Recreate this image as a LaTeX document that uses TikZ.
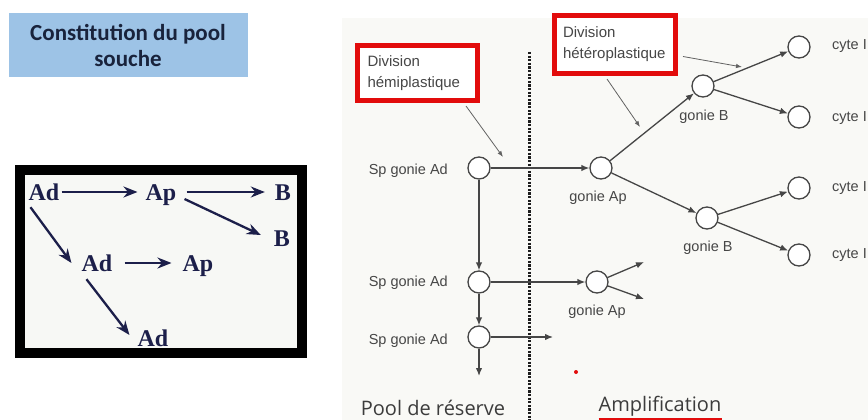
\documentclass[tikz,border=0pt]{standalone}
\usepackage{fontspec}
\setmainfont{Liberation Sans}
\newfontfamily\titlefont{Carlito}
\newfontfamily\schemefont{Liberation Serif}
\newfontfamily\poolfont{Open Sans}
\usetikzlibrary{arrows.meta}

\definecolor{titleblue}{RGB}{157,195,230}
\definecolor{titletext}{RGB}{25,35,60}
\definecolor{navy}{RGB}{28,31,74}
\definecolor{labelgray}{RGB}{70,70,70}
\definecolor{boxred}{RGB}{226,12,12}
\definecolor{panel}{RGB}{249,249,246}

\begin{document}
\begin{tikzpicture}[x=1pt,y=1pt]
\tikzstyle{every node}+=[inner sep=0pt]
\tikzstyle{cell}=[draw=labelgray,circle,minimum size=22pt,line width=1.3pt,fill=white]
\tikzstyle{lab}=[text=labelgray,font=\fontsize{14.5}{16}\selectfont]
\tikzstyle{arr}=[draw=labelgray,line width=1.3pt,-{Latex[length=8pt,width=6.5pt]}]
\tikzstyle{note}=[draw=labelgray!85,line width=0.8pt,-{Latex[length=6pt,width=4.5pt]}]
\tikzstyle{redbox}=[draw=boxred,line width=5pt,fill=white,align=left,text=labelgray,font=\fontsize{15}{21}\selectfont]
\tikzstyle{cellname}=[text=navy,font=\schemefont\bfseries\fontsize{24}{24}\selectfont,text height=16pt,text depth=0pt,inner sep=1pt]
\tikzstyle{step arrow}=[draw=navy,line width=2.3pt,-{Stealth[length=14pt,width=11pt]}]
\useasboundingbox (0,0) rectangle (868,-420);

% title
\fill [titleblue] (9,-13) rectangle (248,-77);
\node (title) at (128,-45) [align=center,text=titletext,font=\titlefont\bfseries\fontsize{23}{26}\selectfont] {Constitution du pool\\souche};

% scheme Ad / Ap / B
\draw [black,line width=10pt,fill={rgb,255:red,247;green,248;blue,245}] (20,-170) rectangle (302,-353);
\node [cellname] (ad1) at (44,-192) {Ad};
\node [cellname] (ap1) at (161,-192) {Ap};
\node [cellname] (b1) at (283,-192) {B};
\node [cellname] (b2) at (282,-238) {B};
\node [cellname] (ad2) at (97,-263) {Ad};
\node [cellname] (ap2) at (198,-263) {Ap};
\node [cellname] (ad3) at (153,-338) {Ad};
\draw [step arrow,shorten <=1pt,shorten >=7pt] (ad1.east) -- (ap1.west);
\draw [step arrow,shorten <=9pt,shorten >=9pt] (ap1.east) -- (b1.west);
\draw [step arrow] ([shift={(7pt,-7pt)}]ap1.east) -- ([shift={(-12pt,3pt)}]b2.west);
\draw [step arrow] ([shift={(3pt,-6pt)}]ad1.south west) -- ([xshift=-9pt]ad2.west);
\draw [step arrow,shorten <=11pt,shorten >=10pt] (ad2.east) -- (ap2.west);
\draw [step arrow] ([shift={(6pt,-7pt)}]ad2.south west) -- ([shift={(-7pt,3pt)}]ad3.west);

% pool de reserve / amplification
\fill [panel] (342,-18) rectangle (868,-420);
\draw [draw={rgb,255:red,30;green,30;blue,30},line width=3pt,dash pattern=on 2.2pt off 1.4pt] (529,-52) -- (529,-420);

\node [redbox,minimum width=120pt,minimum height=55pt,text width=100pt] (hemi) at (417.5,-73) {Division\\hémiplastique};
\node [redbox,minimum width=121pt,minimum height=58pt,text width=104pt] (hetero) at (615,-44.5) {Division\\hétéroplastique};

\node [cell] (sp1) at (479,-168) {};
\node [cell] (sp2) at (479,-282) {};
\node [cell] (sp3) at (479,-337) {};
\node [cell] (gap1) at (601,-168) {};
\node [cell] (gap2) at (597,-282) {};
\node [cell] (gb1) at (703,-86) {};
\node [cell] (gb2) at (707,-218) {};
\node [cell] (cy1) at (799,-47) {};
\node [cell] (cy2) at (799,-117) {};
\node [cell] (cy3) at (799,-188) {};
\node [cell] (cy4) at (799,-255) {};

\node [lab,anchor=east] (sp1lab) at (448,-171) {Sp gonie Ad};
\node [lab,anchor=east] (sp2lab) at (448,-283) {Sp gonie Ad};
\node [lab,anchor=east] (sp3lab) at (448,-341) {Sp gonie Ad};
\node [lab] (gap1lab) at (598,-198) {gonie Ap};
\node [lab] (gap2lab) at (597,-312) {gonie Ap};
\node [lab] (gb1lab) at (704,-117) {gonie B};
\node [lab] (gb2lab) at (708,-248) {gonie B};
\node [lab,anchor=west] (cy1lab) at (832,-46) {cyte I};
\node [lab,anchor=west] (cy2lab) at (832,-118) {cyte I};
\node [lab,anchor=west] (cy3lab) at (832,-188) {cyte I};
\node [lab,anchor=west] (cy4lab) at (832,-255) {cyte I};

\coordinate (sp3right) at (553,-337);
\coordinate (sp3down) at (479,-376);
\coordinate (gap2up) at (644,-262);
\coordinate (gap2down) at (644,-299);
\coordinate (hemitip) at (503,-157);
\coordinate (heterotip1) at (742,-67);
\coordinate (heterotip2) at (640,-127);

\draw [arr] (sp1) -- (gap1);
\draw [arr] (sp1) -- (sp2);
\draw [arr] (sp2) -- (gap2);
\draw [arr] (sp2) -- (sp3);
\draw [arr] (sp3) -- (sp3right);
\draw [arr] (sp3) -- (sp3down);
\draw [arr] (gap1) -- (gb1);
\draw [arr] (gap1) -- (gb2);
\draw [arr] (gb1) -- (cy1);
\draw [arr] (gb1) -- (cy2);
\draw [arr] (gb2) -- (cy3);
\draw [arr] (gb2) -- (cy4);
\draw [arr] (gap2) -- (gap2up);
\draw [arr] (gap2) -- (gap2down);

\draw [note] ([shift={(-14pt,-3pt)}]hemi.south east) -- (hemitip);
\draw [note] ([shift={(5pt,-12pt)}]hetero.east) -- (heterotip1);
\draw [note] ([shift={(-8pt,-3pt)}]hetero.south) -- (heterotip2);

\fill [boxred] (576,-372) circle (2);
\node [text={rgb,255:red,60;green,60;blue,60},font=\poolfont\fontsize{20}{24}\selectfont] (pool) at (433,-408) {Pool de réserve};
\node [text={rgb,255:red,60;green,60;blue,60},font=\poolfont\fontsize{20}{24}\selectfont] (ampli) at (660,-406) {Amplification};
\draw [boxred,line width=2pt] ([yshift=-3pt]ampli.south west) -- ([yshift=-3pt]ampli.south east);
\end{tikzpicture}
\end{document}
